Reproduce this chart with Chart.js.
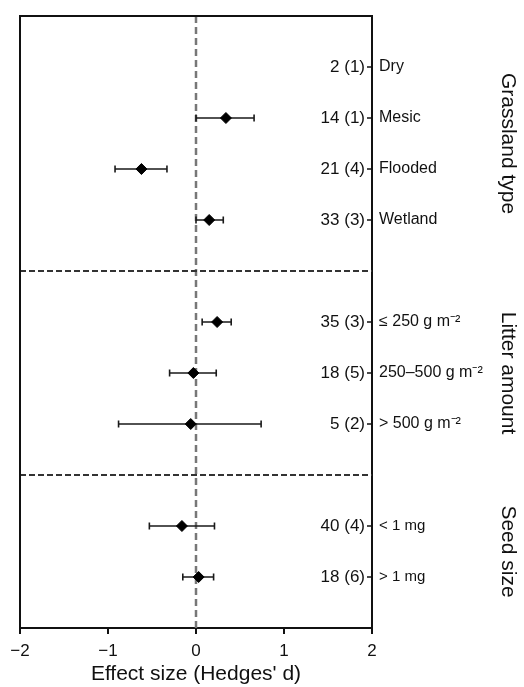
<!DOCTYPE html>
<html>
<head>
<meta charset="utf-8">
<script src="https://cdn.jsdelivr.net/npm/chart.js@4"></script>
<style>
html,body{margin:0;padding:0;background:#fff;}
#wrap{width:524px;height:687px;position:relative;}
canvas{display:block;}
</style>
</head>
<body>
<div id="wrap"><canvas id="c" width="524" height="687"></canvas></div>
<script>
// ---- data ----
const categories = ['Dry', 'Mesic', 'Flooded', 'Wetland', '≤ 250 g m⁻²', '250–500 g m⁻²', '> 500 g m⁻²', '< 1 mg', '> 1 mg'];
const rowPositions = [1, 2, 3, 4, 6, 7, 8, 10, 11];
const counts = ['2 (1)', '14 (1)', '21 (4)', '33 (3)', '35 (3)', '18 (5)', '5 (2)', '40 (4)', '18 (6)'];
const effectSize = [null, 0.34, -0.62, 0.15, 0.24, -0.03, -0.06, -0.16, 0.03];
const ciLower = [null, 0.00, -0.92, 0.00, 0.07, -0.30, -0.88, -0.53, -0.15];
const ciUpper = [null, 0.66, -0.33, 0.31, 0.40, 0.23, 0.74, 0.21, 0.20];
const groupTitles = ['Grassland type', 'Litter amount', 'Seed size'];
const groupFirstRow = [1, 6, 10];
const groupLastRow = [4, 8, 11];
const separatorRows = [5, 9];
const xTickValues = [-2, -1, 0, 1, 2];
const yRange = [0, 12];

const FONT = "'Liberation Sans', Arial, Helvetica, sans-serif";
Chart.defaults.font.family = FONT;
Chart.defaults.color = '#111';

const points = [];
effectSize.forEach((v, i) => { if (v !== null) points.push({x: v, y: rowPositions[i]}); });

const decor = {
  id: 'decor',
  beforeDatasetsDraw(chart) {
    const {ctx, chartArea: a, scales: {x, y}} = chart;
    ctx.save();
    // vertical dashed zero line
    ctx.strokeStyle = '#777';
    ctx.lineWidth = 2.5;
    ctx.setLineDash([7, 4]);
    const x0 = x.getPixelForValue(0);
    ctx.beginPath(); ctx.moveTo(x0, a.top); ctx.lineTo(x0, a.bottom); ctx.stroke();
    // horizontal separators
    ctx.strokeStyle = '#333';
    ctx.lineWidth = 2;
    ctx.setLineDash([6, 3]);
    separatorRows.forEach(r => {
      const py = y.getPixelForValue(r);
      ctx.beginPath(); ctx.moveTo(a.left, py); ctx.lineTo(a.right, py); ctx.stroke();
    });
    ctx.setLineDash([]);
    // error bars
    ctx.strokeStyle = '#1a1a1a';
    ctx.lineWidth = 1.6;
    effectSize.forEach((v, i) => {
      if (v === null) return;
      const py = y.getPixelForValue(rowPositions[i]);
      const xl = x.getPixelForValue(ciLower[i]);
      const xu = x.getPixelForValue(ciUpper[i]);
      ctx.beginPath();
      ctx.moveTo(xl, py); ctx.lineTo(xu, py);
      ctx.moveTo(xl, py - 3.5); ctx.lineTo(xl, py + 3.5);
      ctx.moveTo(xu, py - 3.5); ctx.lineTo(xu, py + 3.5);
      ctx.stroke();
    });
    ctx.restore();
  },
  afterDraw(chart) {
    const {ctx, chartArea: a, scales: {y}} = chart;
    ctx.save();
    // top and left border
    ctx.strokeStyle = '#111';
    ctx.lineWidth = 2;
    ctx.beginPath();
    ctx.moveTo(a.left, a.bottom); ctx.lineTo(a.left, a.top); ctx.lineTo(a.right + 1, a.top);
    ctx.stroke();
    // inner ticks on right axis + count labels
    ctx.lineWidth = 1.5;
    ctx.fillStyle = '#111';
    ctx.font = '17px ' + FONT;
    ctx.textAlign = 'right';
    ctx.textBaseline = 'middle';
    rowPositions.forEach((r, i) => {
      const py = y.getPixelForValue(r);
      ctx.beginPath(); ctx.moveTo(a.right - 5, py); ctx.lineTo(a.right, py); ctx.stroke();
      ctx.fillText(counts[i], a.right - 7, py);
    });
    // group titles, rotated clockwise
    ctx.font = '21px ' + FONT;
    ctx.textAlign = 'center';
    groupTitles.forEach((t, i) => {
      const cy = (y.getPixelForValue(groupFirstRow[i]) + y.getPixelForValue(groupLastRow[i])) / 2;
      ctx.save();
      ctx.translate(508, cy);
      ctx.rotate(Math.PI / 2);
      ctx.fillText(t, 0, 0);
      ctx.restore();
    });
    ctx.restore();
  }
};

new Chart(document.getElementById('c'), {
  type: 'scatter',
  data: {
    datasets: [{
      data: points,
      pointStyle: 'rectRot',
      pointRadius: 5.5,
      pointBackgroundColor: '#000',
      pointBorderColor: '#000',
      pointBorderWidth: 1
    }]
  },
  options: {
    responsive: false,
    animation: false,
    events: [],
    layout: {padding: {top: 12, left: 20, right: 0, bottom: 0}},
    plugins: {legend: {display: false}, tooltip: {enabled: false}},
    scales: {
      x: {
        type: 'linear',
        min: xTickValues[0],
        max: xTickValues[xTickValues.length - 1],
        afterBuildTicks: s => { s.ticks = xTickValues.map(v => ({value: v})); },
        afterFit: s => { s.height = 59; },
        ticks: {
          font: {size: 17},
          color: '#111',
          padding: 7,
          maxRotation: 0,
          callback: v => (v < 0 ? '−' + Math.abs(v) : String(v))
        },
        grid: {display: true, drawOnChartArea: false, drawTicks: true, tickLength: 6, color: '#111', lineWidth: 2},
        border: {display: true, color: '#111', width: 2},
        title: {display: true, text: "Effect size (Hedges' d)", font: {size: 21}, color: '#111', padding: {top: 0, bottom: 0}}
      },
      y: {
        type: 'linear',
        position: 'right',
        reverse: true,
        min: yRange[0],
        max: yRange[1],
        afterBuildTicks: s => { s.ticks = rowPositions.map(v => ({value: v})); },
        afterFit: s => { s.width = 152; },
        ticks: {
          autoSkip: false,
          padding: 7,
          color: '#111',
          font: c => ({size: c.index < 7 ? 16 : 15}),
          callback: (v, i) => categories[i]
        },
        grid: {display: false, drawTicks: false},
        border: {display: true, color: '#111', width: 2}
      }
    }
  },
  plugins: [decor]
});
</script>
</body>
</html>
